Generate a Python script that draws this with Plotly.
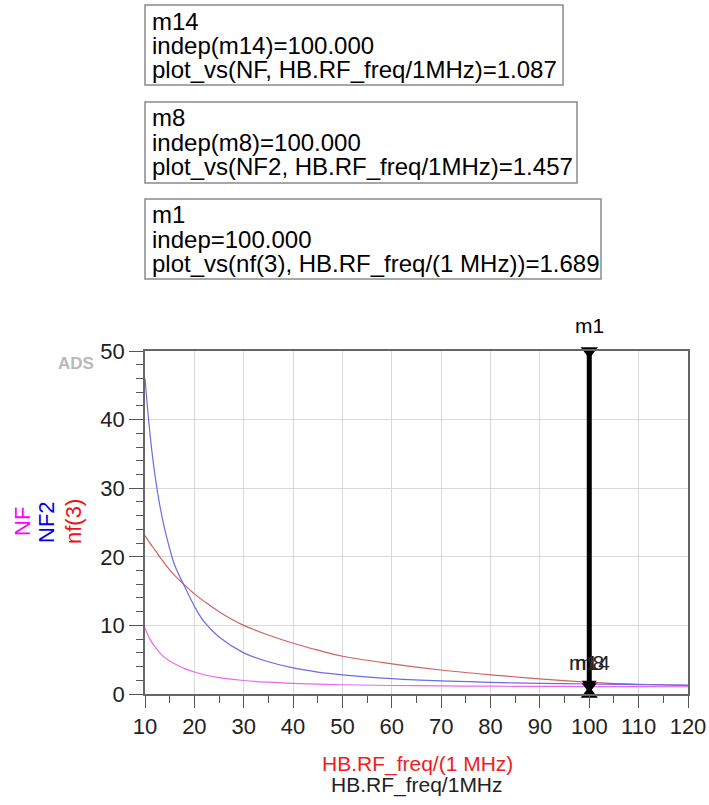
import plotly.graph_objects as go

# ---- data ----
freq = [10, 11, 12, 13, 14, 15, 16, 18, 20, 22, 25, 30, 35, 40, 45, 50, 60, 70, 80, 90, 100, 110, 120]
nf_vals = [9.6, 8.0, 6.9, 6.0, 5.3, 4.8, 4.4, 3.7, 3.2, 2.8, 2.4, 1.97, 1.72, 1.55, 1.43, 1.35, 1.24, 1.18, 1.14, 1.11, 1.087, 1.07, 1.06]
nf2_vals = [46.0, 38.0, 32.0, 27.5, 24.0, 21.2, 18.8, 15.7, 12.8, 10.5, 8.3, 6.0, 4.7, 3.8, 3.2, 2.8, 2.25, 1.9, 1.7, 1.55, 1.457, 1.37, 1.31]
nf3_vals = [23.1, 22.0, 21.0, 20.0, 19.0, 18.1, 17.3, 15.9, 14.6, 13.5, 12.0, 10.0, 8.6, 7.4, 6.4, 5.5, 4.4, 3.5, 2.8, 2.2, 1.689, 1.42, 1.22]

marker_freq = 100.0
marker_names = ["m14", "m8", "m1"]
marker_vals = [1.087, 1.457, 1.689]
marker_exprs = ["plot_vs(NF, HB.RF_freq/1MHz)=1.087",
                "plot_vs(NF2, HB.RF_freq/1MHz)=1.457",
                "plot_vs(nf(3), HB.RF_freq/(1 MHz))=1.689"]
marker_indep = ["indep(m14)=100.000", "indep(m8)=100.000", "indep=100.000"]

x_range = [10, 120]
y_range = [0, 50]
x_ticks = list(range(10, 121, 10))
y_ticks = list(range(0, 51, 10))

# ---- layout geometry (pixels) ----
W, H = 709, 805
L, R, T, B = 145, 688, 351, 694
FONT = "Arial, Liberation Sans, sans-serif"


def px(x):
    return (x - L) / (R - L)


def py(y):
    return (B - y) / (B - T)


fig = go.Figure()
fig.add_trace(go.Scatter(x=freq, y=nf3_vals, mode="lines", line=dict(color="#d06262", width=1.2, shape="spline"), name="nf(3)"))
fig.add_trace(go.Scatter(x=freq, y=nf2_vals, mode="lines", line=dict(color="#6c6ce6", width=1.2, shape="spline"), name="NF2"))
fig.add_trace(go.Scatter(x=freq, y=nf_vals, mode="lines", line=dict(color="#ee66ee", width=1.2, shape="spline"), name="NF"))

# m1 vertical marker line
fig.add_shape(type="line", x0=marker_freq, x1=marker_freq, y0=y_range[0], y1=y_range[1],
              xref="x", yref="y", line=dict(color="black", width=5))
fig.add_trace(go.Scatter(x=[marker_freq], y=[y_range[1]], mode="markers", cliponaxis=False,
                         marker=dict(symbol="triangle-down", size=15, color="black")))
fig.add_trace(go.Scatter(x=[marker_freq], y=[y_range[0]], mode="markers", cliponaxis=False,
                         marker=dict(symbol="triangle-up", size=15, color="black")))
fig.add_trace(go.Scatter(x=[marker_freq, marker_freq], y=marker_vals[:2], mode="markers", cliponaxis=False,
                         marker=dict(symbol="triangle-down", size=13, color="black")))

ann = []
ann.append(dict(x=marker_freq, y=y_range[1], xref="x", yref="y", text="m1", showarrow=False,
                yanchor="middle", yshift=26, font=dict(family=FONT, size=21, color="black")))
for nm in marker_names[:2]:
    ann.append(dict(x=marker_freq, y=marker_vals[0], xref="x", yref="y", text=nm, showarrow=False,
                    yanchor="middle", yshift=24, font=dict(family=FONT, size=21, color="#222")))

# marker readout boxes
boxes = [(5, 85, 563), (102, 183, 577), (199, 279, 601)]
for i, (bt, bb, br) in enumerate(boxes):
    fig.add_shape(type="rect", xref="paper", yref="paper", x0=px(145), x1=px(br), y0=py(bb), y1=py(bt),
                  line=dict(color="#8a8a8a", width=1.5), fillcolor="white")
    lines = [marker_names[i], marker_indep[i], marker_exprs[i]]
    for j, t in enumerate(lines):
        ann.append(dict(x=px(150), y=py(bt + 16 + 24 * j), xref="paper", yref="paper", text=t,
                        showarrow=False, xanchor="left", yanchor="middle",
                        font=dict(family=FONT, size=24, color="black")))

# y-axis labels (rotated, stacked)
for xc, t, c in [(22, "NF", "#ff00ff"), (46, "NF2", "#0000ee"), (73, "nf(3)", "#ee1111")]:
    ann.append(dict(x=px(xc), y=py(522), xref="paper", yref="paper", text=t, textangle=-90,
                    showarrow=False, xanchor="center", yanchor="middle",
                    font=dict(family=FONT, size=22, color=c)))

# x-axis titles
ann.append(dict(x=px(417), y=py(764), xref="paper", yref="paper", text="HB.RF_freq/(1 MHz)",
                showarrow=False, xanchor="center", yanchor="middle",
                font=dict(family=FONT, size=21, color="#ee1c24")))
ann.append(dict(x=px(417), y=py(785), xref="paper", yref="paper", text="HB.RF_freq/1MHz",
                showarrow=False, xanchor="center", yanchor="middle",
                font=dict(family=FONT, size=21, color="#222")))

# ADS watermark
ann.append(dict(x=px(76), y=py(363), xref="paper", yref="paper", text="<b>ADS</b>", showarrow=False,
                xanchor="center", yanchor="middle",
                font=dict(family="Liberation Sans Narrow, Arial, sans-serif", size=17, color="#b8b8b8")))

axis_common = dict(showline=True, linecolor="#666", linewidth=1.5, mirror=True, automargin=False,
                   gridcolor="#d9d9d9", gridwidth=1, zeroline=False, ticks="outside",
                   tickcolor="#555", tickwidth=1.3,
                   tickfont=dict(family=FONT, size=22, color="#222"))

fig.update_layout(
    width=W, height=H, autosize=False,
    margin=dict(l=L, r=W - R, t=T, b=H - B, pad=0, autoexpand=False),
    paper_bgcolor="white", plot_bgcolor="white", showlegend=False,
    xaxis=dict(range=x_range, tickvals=x_ticks, ticklen=12,
               minor=dict(dtick=5, tick0=5, ticklen=7, ticks="outside", tickcolor="#555", showgrid=False),
               **axis_common),
    yaxis=dict(range=y_range, tickvals=y_ticks, ticklen=14,
               minor=dict(dtick=2, tick0=0, ticklen=7, ticks="outside", tickcolor="#555", showgrid=False),
               **axis_common),
    annotations=ann,
)

fig.write_html("out.html")
